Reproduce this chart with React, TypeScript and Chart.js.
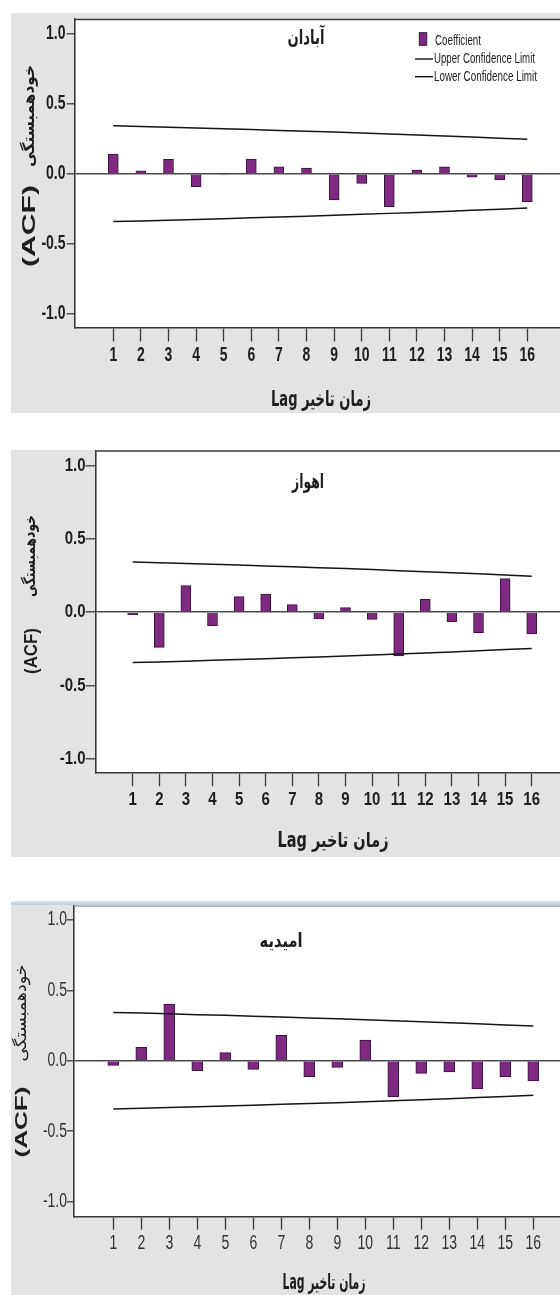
import { useEffect, useRef } from "react";
import { Chart, registerables } from "chart.js";

Chart.register(...registerables);

// ---- data ----
const lags = [1, 2, 3, 4, 5, 6, 7, 8, 9, 10, 11, 12, 13, 14, 15, 16];
const yTickValues = [-1, -0.5, 0, 0.5, 1];
const yTickLabels = ["-1.0", "-0.5", "0.0", "0.5", "1.0"];

const upperConfidence = [0.343, 0.338, 0.333, 0.327, 0.322, 0.316, 0.31, 0.304, 0.298, 0.291, 0.284, 0.277, 0.27, 0.262, 0.254, 0.246];
const lowerConfidence = [-0.343, -0.338, -0.333, -0.327, -0.322, -0.316, -0.31, -0.304, -0.298, -0.291, -0.284, -0.277, -0.27, -0.262, -0.254, -0.246];

const abadanAcf = [0.141, 0.021, 0.103, -0.093, -0.006, 0.105, 0.05, 0.041, -0.188, -0.069, -0.236, 0.026, 0.05, -0.024, -0.045, -0.2];
const ahvazAcf = [-0.016, -0.239, 0.182, -0.091, 0.107, 0.125, 0.052, -0.045, 0.032, -0.048, -0.298, 0.089, -0.064, -0.139, 0.23, -0.148];
const omidiyehAcf = [-0.033, 0.095, 0.402, -0.071, 0.057, -0.062, 0.18, -0.114, -0.047, 0.147, -0.255, -0.09, -0.08, -0.201, -0.116, -0.144];

const stationNames = ["آبادان", "اهواز", "امیدیه"];
const yTitleFa = "خودهمبستگی";
const yTitleEn = "(ACF)";
const xTitle = "Lag زمان تاخیر";
const legendLabels = ["Coefficient", "Upper Confidence Limit", "Lower Confidence Limit"];

// ---- styling ----
const PAGE_W = 560;
const BOX_LEFT = 11;
const PANEL_BG = "#e3e3e3";
const AXIS = "#3a3a3a";
const ZERO = "#4a4a4a";
const LIMIT = "#151515";
const BAR_FILL = "#7e2a80";
const BAR_EDGE = "#3a1340";
const TEXT = "#1e1e1e";
const SANS = "'Liberation Sans', Arial, sans-serif";
const FA = "'DejaVu Sans', sans-serif";

type TextSpec = { x: number; y: number; font: string; width?: number; sy?: number; color?: string };

type PanelSpec = {
  values: number[];
  name: string;
  legend: boolean;
  top: number;
  height: number;
  plotLeft: number;
  plotTop: number;
  plotBottom: number;
  zeroY: number;
  unitPx: number;
  firstTickX: number;
  tickStep: number;
  barWidth: number;
  labelFont: string;
  labelSy: number;
  labelColor: string;
  yLabelRight: number;
  xLabelY: number;
  yTickLen: number;
  xTickLen: number;
  topBorder: string;
  accentLine: boolean;
  title: TextSpec;
  xTitle: TextSpec;
  yFa: TextSpec;
  yEn: TextSpec;
};

const panels: PanelSpec[] = [
  {
    values: abadanAcf, name: stationNames[0], legend: true,
    top: 13, height: 400, plotLeft: 74.7, plotTop: 19, plotBottom: 328,
    zeroY: 173.7, unitPx: 139.7, firstTickX: 113.3, tickStep: 27.6, barWidth: 10,
    labelFont: `bold 14px ${SANS}`, labelSy: 1.4, labelColor: TEXT,
    yLabelRight: 65.5, xLabelY: 355.5,
    yTickLen: 8, xTickLen: 13.5,
    topBorder: AXIS, accentLine: false,
    title: { x: 306, y: 39, font: `bold 15px ${FA}`, width: 37, sy: 1.35 },
    xTitle: { x: 321, y: 400, font: `bold 16px ${FA}`, width: 100, sy: 1.35 },
    yFa: { x: 30, y: 116, font: `bold 16px ${FA}`, width: 102 },
    yEn: { x: 30, y: 226, font: `bold 18px ${SANS}`, width: 82 },
  },
  {
    values: ahvazAcf, name: stationNames[1], legend: false,
    top: 450, height: 407, plotLeft: 95.7, plotTop: 450.5, plotBottom: 773.3,
    zeroY: 612.3, unitPx: 146.7, firstTickX: 132.7, tickStep: 26.6, barWidth: 10,
    labelFont: `bold 15px ${SANS}`, labelSy: 1.25, labelColor: TEXT,
    yLabelRight: 85.5, xLabelY: 800,
    yTickLen: 10, xTickLen: 13,
    topBorder: AXIS, accentLine: false,
    title: { x: 308, y: 483, font: `bold 17px ${FA}`, width: 32, sy: 1.2 },
    xTitle: { x: 333, y: 842, font: `600 17px ${FA}`, width: 111, sy: 1.2 },
    yFa: { x: 31, y: 556, font: `bold 16px ${FA}`, width: 82 },
    yEn: { x: 32, y: 651, font: `bold 18px ${SANS}`, width: 46 },
  },
  {
    values: omidiyehAcf, name: stationNames[2], legend: false,
    top: 901, height: 394, plotLeft: 74, plotTop: 905.7, plotBottom: 1216.7,
    zeroY: 1060.7, unitPx: 140.8, firstTickX: 113.3, tickStep: 28, barWidth: 11,
    labelFont: `14px ${SANS}`, labelSy: 1.4, labelColor: "#333",
    yLabelRight: 67, xLabelY: 1244,
    yTickLen: 7, xTickLen: 13,
    topBorder: "#9a9a9a", accentLine: true,
    title: { x: 281, y: 942, font: `bold 15px ${FA}`, width: 43, sy: 1.3 },
    xTitle: { x: 324, y: 1284, font: `bold 14px ${FA}`, width: 83, sy: 1.5 },
    yFa: { x: 22, y: 1013, font: `16px ${FA}`, width: 97 },
    yEn: { x: 23, y: 1122, font: `bold 16px ${SANS}`, width: 71 },
  },
];

function paintText(
  ctx: CanvasRenderingContext2D,
  text: string,
  x: number,
  y: number,
  o: { font: string; width?: number; sy?: number; rotate?: boolean; color?: string; align?: CanvasTextAlign }
) {
  ctx.save();
  ctx.font = o.font;
  ctx.fillStyle = o.color ?? TEXT;
  ctx.textBaseline = "middle";
  ctx.textAlign = o.align ?? "center";
  const natural = ctx.measureText(text).width;
  const sx = o.width ? o.width / natural : 1;
  ctx.translate(x, y);
  if (o.rotate) ctx.rotate(-Math.PI / 2);
  ctx.scale(sx, o.sy ?? 1);
  ctx.fillText(text, 0, 0);
  ctx.restore();
}

function AcfPanel({ spec }: { spec: PanelSpec }) {
  const ref = useRef<HTMLCanvasElement | null>(null);
  const W = PAGE_W - BOX_LEFT;
  const H = spec.height;

  useEffect(() => {
    const canvas = ref.current;
    if (!canvas) return;
    const ox = BOX_LEFT;
    const oy = spec.top;

    const yMax = (spec.zeroY - spec.plotTop) / spec.unitPx;
    const yMin = -(spec.plotBottom - spec.zeroY) / spec.unitPx;
    const xMin = 1 - (spec.firstTickX - spec.plotLeft) / spec.tickStep;
    const xMax = 1 + (PAGE_W - spec.firstTickX) / spec.tickStep;

    const painter = {
      id: "panelPainter",
      beforeDraw(chart: Chart) {
        const { ctx, chartArea: a, width, height } = chart;
        ctx.save();
        ctx.fillStyle = PANEL_BG;
        ctx.fillRect(0, 0, width, height);
        ctx.fillStyle = "#ffffff";
        ctx.fillRect(a.left, a.top, a.right - a.left, a.bottom - a.top);
        ctx.restore();
      },
      afterDraw(chart: Chart) {
        const { ctx, chartArea: a, width } = chart;
        ctx.save();
        ctx.strokeStyle = spec.topBorder;
        ctx.lineWidth = 1.3;
        ctx.beginPath();
        ctx.moveTo(a.left, a.top + 0.5);
        ctx.lineTo(a.right, a.top + 0.5);
        ctx.stroke();
        if (spec.accentLine) {
          ctx.fillStyle = "#bfd3e4";
          ctx.fillRect(0, 1.5, width, 2.5);
        }
        ctx.restore();

        // tick labels, placed on the library's scale positions
        const xs = chart.scales.x;
        lags.forEach((v) => {
          paintText(ctx, String(v), xs.getPixelForValue(v), spec.xLabelY - oy, {
            font: spec.labelFont, sy: spec.labelSy, color: spec.labelColor,
          });
        });
        const ys = chart.scales.y;
        yTickValues.forEach((v, i) => {
          paintText(ctx, yTickLabels[i], spec.yLabelRight - ox, ys.getPixelForValue(v), {
            font: spec.labelFont, sy: spec.labelSy, color: spec.labelColor, align: "right",
          });
        });

        const t = spec.title;
        paintText(ctx, spec.name, t.x - ox, t.y - oy, t);
        const xt = spec.xTitle;
        paintText(ctx, xTitle, xt.x - ox, xt.y - oy, xt);
        paintText(ctx, yTitleFa, spec.yFa.x - ox, spec.yFa.y - oy, { ...spec.yFa, rotate: true });
        paintText(ctx, yTitleEn, spec.yEn.x - ox, spec.yEn.y - oy, { ...spec.yEn, rotate: true });

        if (spec.legend) {
          ctx.save();
          ctx.fillStyle = BAR_FILL;
          ctx.strokeStyle = BAR_EDGE;
          ctx.lineWidth = 1;
          ctx.fillRect(419.3 - ox, 32.7 - oy, 7.4, 12.6);
          ctx.strokeRect(419.3 - ox, 32.7 - oy, 7.4, 12.6);
          ctx.strokeStyle = LIMIT;
          ctx.lineWidth = 1.4;
          [59, 76.7].forEach((ly) => {
            ctx.beginPath();
            ctx.moveTo(415 - ox, ly - oy);
            ctx.lineTo(433 - ox, ly - oy);
            ctx.stroke();
          });
          ctx.restore();
          const lf = `14px ${SANS}`;
          paintText(ctx, legendLabels[0], 435 - ox, 40.7 - oy, { font: lf, width: 46, sy: 1.05, align: "left" });
          paintText(ctx, legendLabels[1], 434 - ox, 59 - oy, { font: lf, width: 101, sy: 1.05, align: "left" });
          paintText(ctx, legendLabels[2], 434 - ox, 76.7 - oy, { font: lf, width: 103, sy: 1.05, align: "left" });
        }
      },
    };

    const chart = new Chart(canvas, {
      type: "bar",
      data: {
        datasets: [
          {
            type: "bar",
            label: legendLabels[0],
            data: lags.map((x, i) => ({ x, y: spec.values[i] })),
            backgroundColor: BAR_FILL,
            borderColor: BAR_EDGE,
            borderWidth: 1,
            barThickness: spec.barWidth,
            order: 2,
          },
          {
            type: "line",
            label: legendLabels[1],
            data: lags.map((x, i) => ({ x, y: upperConfidence[i] })),
            borderColor: LIMIT,
            borderWidth: 1.5,
            pointRadius: 0,
            fill: false,
            tension: 0,
            order: 1,
          },
          {
            type: "line",
            label: legendLabels[2],
            data: lags.map((x, i) => ({ x, y: lowerConfidence[i] })),
            borderColor: LIMIT,
            borderWidth: 1.5,
            pointRadius: 0,
            fill: false,
            tension: 0,
            order: 1,
          },
        ] as any,
      },
      options: {
        responsive: false,
        animation: false,
        devicePixelRatio: 1,
        layout: { padding: { left: 0, right: 0, top: spec.plotTop - spec.top, bottom: 0 } },
        plugins: { legend: { display: false }, tooltip: { enabled: false }, title: { display: false } },
        scales: {
          x: {
            type: "linear",
            min: xMin,
            max: xMax,
            offset: false,
            afterBuildTicks: (s: any) => {
              s.ticks = lags.map((v) => ({ value: v }));
            },
            afterFit: (s: any) => {
              s.height = spec.top + spec.height - spec.plotBottom;
            },
            grid: {
              offset: false,
              drawOnChartArea: false,
              drawTicks: true,
              tickLength: spec.xTickLen,
              tickColor: AXIS,
              tickWidth: 1.3,
            },
            border: { display: true, color: AXIS, width: 1.6 },
            ticks: { display: false, autoSkip: false, maxRotation: 0 },
          },
          y: {
            type: "linear",
            min: yMin,
            max: yMax,
            afterBuildTicks: (s: any) => {
              s.ticks = yTickValues.map((v) => ({ value: v }));
            },
            afterFit: (s: any) => {
              s.width = spec.plotLeft - BOX_LEFT;
            },
            grid: {
              drawOnChartArea: true,
              drawTicks: true,
              tickLength: spec.yTickLen,
              tickColor: AXIS,
              tickWidth: 1.3,
              lineWidth: 1.6,
              color: (c: any) => (c.tick && c.tick.value === 0 ? ZERO : "rgba(0,0,0,0)"),
            },
            border: { display: true, color: AXIS, width: 1.6 },
            ticks: { display: false },
          },
        },
      },
      plugins: [painter],
    });

    return () => chart.destroy();
  }, [spec]);

  return (
    <canvas
      ref={ref}
      width={W}
      height={H}
      style={{ position: "absolute", left: BOX_LEFT, top: spec.top, width: W, height: H, display: "block" }}
    />
  );
}

export default function App() {
  return (
    <div
      style={{
        position: "absolute",
        left: 0,
        top: 0,
        width: PAGE_W,
        height: 1295,
        overflow: "hidden",
        background: "#ffffff",
      }}
    >
      {panels.map((p, i) => (
        <AcfPanel key={i} spec={p} />
      ))}
    </div>
  );
}
